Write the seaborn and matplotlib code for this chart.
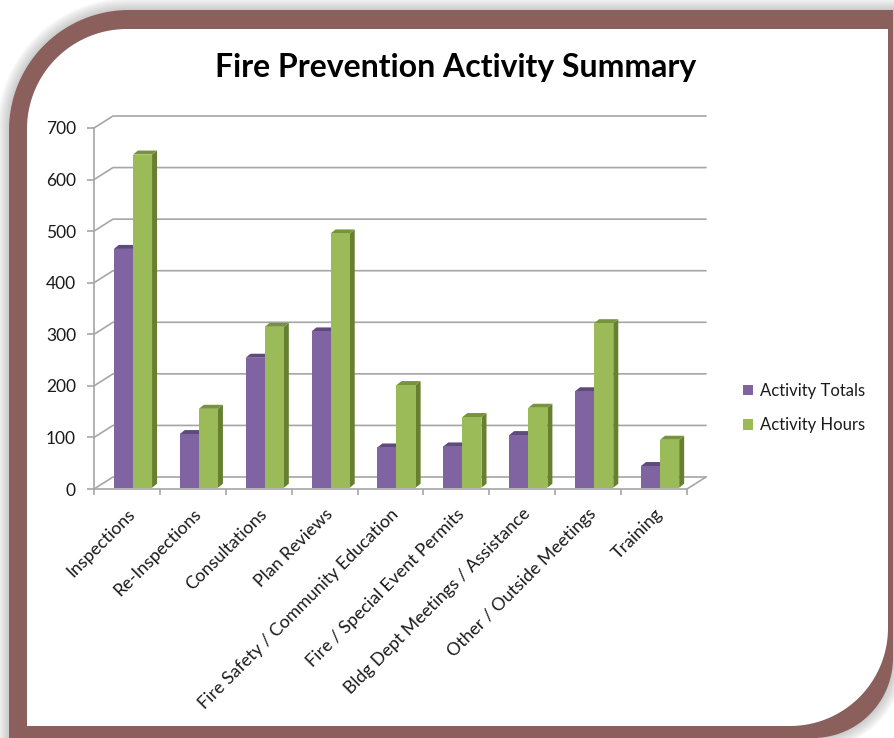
import numpy as np
import pandas as pd
import matplotlib
matplotlib.use("Agg")
import matplotlib.pyplot as plt
import matplotlib.transforms as mtransforms
from matplotlib.patches import Polygon, Patch
from matplotlib.lines import Line2D
import seaborn as sns

# ---------------- data ----------------
categories = [
    "Inspections",
    "Re-Inspections",
    "Consultations",
    "Plan Reviews",
    "Fire Safety / Community Education",
    "Fire / Special Event Permits",
    "Bldg Dept Meetings / Assistance",
    "Other / Outside Meetings",
    "Training",
]
activity_totals = [463, 104, 252, 303, 78, 80, 102, 187, 42]
activity_hours = [646, 153, 312, 493, 199, 137, 155, 319, 93]
series_names = ["Activity Totals", "Activity Hours"]
y_ticks = [0, 100, 200, 300, 400, 500, 600, 700]
title = "Fire Prevention Activity Summary"

# ---------------- style ----------------
sns.set_style("white")
plt.rcParams["font.family"] = ["Lato", "DejaVu Sans"]

PURPLE = "#8064A2"
GREEN = "#9BBB59"
TOP = {PURPLE: "#5F4A7D", GREEN: "#77933C"}
SIDE = {PURPLE: "#5A4576", GREEN: "#66802F"}
GRID = "#A6A6A6"
BROWN = "#8A5F5C"

W, H = 894, 738
fig = plt.figure(figsize=(W / 100, H / 100), dpi=100)
fig.patch.set_facecolor("white")
ident = mtransforms.IdentityTransform()


def frame_pts(x0, y0, x1, y1, r_tl, r_br, n=40):
    pts = [(x0 + r_tl, y0), (x1, y0), (x1, y1 - r_br)]
    cx, cy = x1 - r_br, y1 - r_br
    for t in np.linspace(0, np.pi / 2, n):
        pts.append((cx + r_br * np.cos(t), cy + r_br * np.sin(t)))
    pts.append((x0, y1))
    pts.append((x0, y0 + r_tl))
    cx, cy = x0 + r_tl, y0 + r_tl
    for t in np.linspace(np.pi, 1.5 * np.pi, n):
        pts.append((cx + r_tl * np.cos(t), cy + r_tl * np.sin(t)))
    arr = np.array(pts)
    arr[:, 1] = H - arr[:, 1]
    return arr


# soft shadow
for k in range(12, 0, -1):
    fig.add_artist(Polygon(frame_pts(9 - k, 10 - k, 893 + k, 738 + k, 120 + k, 80 + k),
                           closed=True, transform=ident, facecolor="#808080",
                           alpha=0.035, edgecolor="none", zorder=-12))
# brown frame + white interior
fig.add_artist(Polygon(frame_pts(9, 10, 893, 738, 120, 80), closed=True, transform=ident,
                       facecolor=BROWN, edgecolor="none", zorder=-11))
fig.add_artist(Polygon(frame_pts(27, 29, 888, 726, 100, 98), closed=True, transform=ident,
                       facecolor="white", edgecolor="none", zorder=-10))

# ---------------- axes ----------------
X0, X1, YB, YT = 94, 687, 489, 128
ax = fig.add_axes([X0 / W, (H - YB) / H, (X1 - X0) / W, (YB - YT) / H])
ax.set_facecolor("none")

df = pd.DataFrame({
    "Activity": categories * 2,
    "Value": activity_totals + activity_hours,
    "Series": [series_names[0]] * len(categories) + [series_names[1]] * len(categories),
})
sns.barplot(data=df, x="Activity", y="Value", hue="Series", hue_order=series_names,
            palette=[PURPLE, GREEN], saturation=1, width=0.58, dodge=True,
            legend=False, ax=ax, linewidth=0, zorder=3, errorbar=None)

ax.set_xlim(-0.5, len(categories) - 0.5)
ax.set_ylim(0, 700)
ax.set_xlabel("")
ax.set_ylabel("")
for s in ["top", "right"]:
    ax.spines[s].set_visible(False)
for s in ["left", "bottom"]:
    ax.spines[s].set_color(GRID)
    ax.spines[s].set_linewidth(1.2)
    ax.spines[s].set_zorder(2)

ax.set_yticks(y_ticks)
ax.set_yticklabels([str(v) for v in y_ticks])
ax.tick_params(axis="y", length=5, width=1.2, color=GRID, pad=8, labelsize=12.5,
               labelcolor="#1a1a1a", left=True)
ax.set_xticks(range(len(categories)))
ax.set_xticklabels(categories, rotation=45, ha="right", va="top", rotation_mode="anchor",
                   fontsize=12.8, color="#1a1a1a")
ax.tick_params(axis="x", length=0, pad=12)
ax.set_xticks(np.arange(-0.5, len(categories)), minor=True)
ax.tick_params(axis="x", which="minor", length=4.5, width=1.2, color=GRID, bottom=True)
ax.grid(False)

# shift bars to mid-depth of the 3D floor
bar_off = mtransforms.ScaledTranslation(6 / 100, 1.3 / 100, fig.dpi_scale_trans)
bars = list(ax.patches)
for p in bars:
    p.set_transform(ax.transData + bar_off)

# back wall gridlines and floor (3D look)
DX, DY = 19, 12
for t in y_ticks:
    fx0, fy = ax.transData.transform((-0.5, t))
    fx1, _ = ax.transData.transform((len(categories) - 0.5, t))
    ax.add_line(Line2D([fx0, fx0 + DX, fx1 + DX], [fy, fy + DY, fy + DY], transform=ident,
                       color=GRID, lw=1.2, clip_on=False, zorder=1))
fx1, fy0 = ax.transData.transform((len(categories) - 0.5, 0))
ax.add_line(Line2D([fx1, fx1 + DX], [fy0, fy0 + DY], transform=ident, color=GRID, lw=1.2,
                   clip_on=False, zorder=1))

# bar side and top faces
fig.canvas.draw()
r = fig.canvas.get_renderer()
BX, BY = 5, 4
for p in bars:
    bb = p.get_window_extent(r)
    col = matplotlib.colors.to_hex(p.get_facecolor())
    key = PURPLE if col.lower() == PURPLE.lower() else GREEN
    x0, y0, x1, y1 = bb.x0, bb.y0, bb.x1, bb.y1
    side = [(x1, y0), (x1 + BX, y0 + BY), (x1 + BX, y1 + BY), (x1, y1)]
    top = [(x0, y1), (x0 + BX, y1 + BY), (x1 + BX, y1 + BY), (x1, y1)]
    ax.add_patch(Polygon(side, closed=True, transform=ident, facecolor=SIDE[key],
                         edgecolor="none", zorder=2.5, clip_on=False))
    ax.add_patch(Polygon(top, closed=True, transform=ident, facecolor=TOP[key],
                         edgecolor="none", zorder=2.6, clip_on=False))

# ---------------- title & legend ----------------
fig.text(456 / W, 1 - 67 / H, title, ha="center", va="center", fontsize=23,
         fontweight="bold", color="black")

handles = [Patch(facecolor=PURPLE, edgecolor="none"), Patch(facecolor=GREEN, edgecolor="none")]
fig.legend(handles, series_names, loc="center left", bbox_to_anchor=(728 / W, 1 - 408 / H),
           frameon=False, fontsize=12, handlelength=0.6, handleheight=0.6,
           handletextpad=0.4, labelspacing=1.1, labelcolor="#1a1a1a")

fig.savefig("out.png", dpi=100)
